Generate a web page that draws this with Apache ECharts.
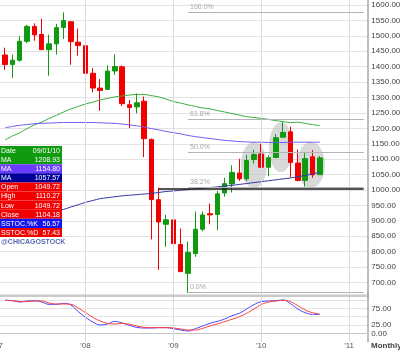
<!DOCTYPE html>
<html>
<head>
<meta charset="utf-8">
<script src="https://cdn.jsdelivr.net/npm/echarts@6/dist/echarts.min.js"></script>
<style>
html, body { margin: 0; padding: 0; background: #fff; }
#root { width: 400px; height: 351px; }
</style>
</head>
<body>
<div id="root"></div>
<script>
// categories: one per month, Jan 2007 .. Mar 2011
var months = [
  '2007-01','2007-02','2007-03','2007-04','2007-05','2007-06','2007-07','2007-08','2007-09','2007-10','2007-11','2007-12',
  '2008-01','2008-02','2008-03','2008-04','2008-05','2008-06','2008-07','2008-08','2008-09','2008-10','2008-11','2008-12',
  '2009-01','2009-02','2009-03','2009-04','2009-05','2009-06','2009-07','2009-08','2009-09','2009-10','2009-11','2009-12',
  '2010-01','2010-02','2010-03','2010-04','2010-05','2010-06','2010-07','2010-08','2010-09','2010-10','2010-11','2010-12',
  '2011-01','2011-02','2011-03'
];
var firstMonth = '2007-02';

// monthly candles: open, close, low, high
var ohlc = [
  [1437.90, 1406.82, 1389.42, 1461.57],
  [1406.80, 1420.86, 1363.98, 1438.89],
  [1420.83, 1482.37, 1416.37, 1498.02],
  [1482.37, 1530.62, 1476.70, 1535.56],
  [1530.62, 1503.35, 1484.18, 1540.56],
  [1504.66, 1455.27, 1454.25, 1555.90],
  [1455.18, 1473.99, 1370.60, 1503.89],
  [1473.96, 1526.75, 1439.29, 1538.74],
  [1527.29, 1549.38, 1489.56, 1576.09],
  [1545.79, 1481.14, 1406.10, 1545.79],
  [1479.63, 1468.36, 1435.65, 1523.57],
  [1467.97, 1378.55, 1270.05, 1471.77],
  [1378.60, 1330.63, 1316.75, 1396.02],
  [1330.45, 1322.70, 1256.98, 1359.68],
  [1326.41, 1385.59, 1324.35, 1404.05],
  [1385.97, 1400.38, 1373.07, 1440.24],
  [1399.62, 1280.00, 1272.00, 1404.05],
  [1276.69, 1267.38, 1200.44, 1292.17],
  [1269.42, 1282.83, 1248.64, 1313.15],
  [1287.83, 1166.36, 1106.42, 1303.04],
  [1164.17, 968.75, 839.80, 1167.03],
  [968.67, 896.24, 741.02, 1007.51],
  [888.61, 903.25, 815.69, 918.85],
  [902.99, 825.88, 804.30, 943.85],
  [823.09, 735.09, 734.52, 875.01],
  [729.57, 797.87, 666.79, 832.98],
  [793.59, 872.81, 783.32, 930.17],
  [872.74, 919.14, 866.10, 930.48],
  [923.26, 919.32, 888.86, 956.23],
  [920.82, 987.48, 869.32, 996.68],
  [990.22, 1020.62, 978.51, 1039.47],
  [1019.52, 1057.08, 991.97, 1080.15],
  [1054.91, 1036.19, 1029.38, 1101.36],
  [1036.18, 1095.63, 1029.38, 1113.69],
  [1098.89, 1115.10, 1085.89, 1130.38],
  [1116.56, 1073.87, 1071.59, 1150.45],
  [1073.89, 1104.49, 1044.50, 1112.42],
  [1105.36, 1169.43, 1105.36, 1180.69],
  [1171.23, 1186.69, 1170.69, 1219.80],
  [1188.58, 1089.41, 1040.78, 1205.13],
  [1087.30, 1030.71, 1028.33, 1131.23],
  [1031.10, 1101.60, 1010.91, 1120.95],
  [1107.53, 1049.33, 1039.70, 1129.24],
  [1049.72, 1104.18, 1049.72, 1110.27]
];

// moving averages
var maGreen = [1162,1175,1185,1199,1211,1220,1232,1242,1253,1263,1271,1279,1285,1292,1297,1302,1305,1308,1310,1310,
  1306,1302,1295,1287,1282,1276,1271,1266,1263,1258,1253,1248,1243,1238,1235,1232,1229,1225,1222,1219,1220,1216,1212,1208.93];
var maViolet = [1202,1206,1210,1212,1215,1216,1217,1218,1219,1219,1219,1219,1219,1218,1217,1216,1214,1211,1208,1204,
  1199,1195,1190,1186,1182,1177,1173,1170,1167,1164,1161,1159,1157,1156,1155,1155,1154,1154,1154,1155,1155,1155,1155,1154.80];
var maNavy = [905,912,918,923,927,930,932,934,937,945,952,960,966,972,975,978,981,983,985,987,
  989,992,995,997,999,1001,1003,1006,1008,1010,1013,1015,1018,1021,1024,1027,1030,1033,1036,1039,1043,1047,1052,1057.57];

// slow stochastics
var stochK = [99,98,94,97,98,94,87,87,90,85,65,48,34,25,28,36,31,24,18,16,
  16,17,17,14,10,7,14,22,30,36,43,53,60,73,86,95,97,98,100,89,73,62,57,56.57];
var stochD = [99,98,96,95,97,97,91,88,88,87,76,62,48,37,30,28,30,27,22,18,
  17,17,17,16,13,10,10,15,22,28,35,42,50,60,73,86,94,97,99,95,83,70,62,57.43];

// fibonacci levels drawn from the Mar 2009 low
var fibFrom = '2009-03';
var fibLevels = [1576, 1229, 1121, 1008, 667];
var fibLabels = ['100.0%', '61.8%', '50.0%', '38.2%', '0.0%'];
var supportFrom = '2008-11';
var supportLevel = 1005;

// head and shoulders shading: month index, price, month radius, price radius
var ovalMonth = [35.0, 38.7, 42.8];
var ovalPrice = [1081, 1139, 1081];
var ovalMonthR = [1.78, 1.64, 1.91];
var ovalPriceR = [75, 81, 75];

var tableLabels = ['Date', 'MA', 'MA', 'MA', 'Open', 'High', 'Low', 'Close', 'SSTOC.%K', 'SSTOC.%D'];
var tableValues = ['09/01/10', '1208.93', '1154.80', '1057.57', '1049.72', '1110.27', '1049.72', '1104.18', '56.57', '57.43'];

var GREEN = '#0f9a0f', RED = '#f00000', VIOLET = '#6a3cff', NAVY = '#000099', BLUE = '#1414f0';
var tableColors = [GREEN, GREEN, VIOLET, NAVY, RED, RED, RED, RED, BLUE, RED];
var FONT = 'Liberation Sans, Arial, sans-serif';

function pad(arr) {
  var s = months.indexOf(firstMonth);
  return months.map(function(m, i) {
    return (i >= s && i - s < arr.length) ? arr[i - s] : '-';
  });
}
var lastMonth = months[months.length - 1];

var yearLines = months.filter(function(m) { return m.slice(5) === '01'; }).map(function(m) {
  return {xAxis: m, lineStyle: {color: '#dadada', width: 1, type: 'solid'}, label: {show: false}};
});

function tag(value, text, bg) {
  return {
    yAxis: value,
    lineStyle: {opacity: 0},
    label: {
      show: true, position: 'end', distance: 3, formatter: text,
      backgroundColor: bg, color: '#fff', fontSize: 8, fontFamily: FONT,
      padding: [1, 6, 0, 2]
    }
  };
}

var fibLines = fibLevels.map(function(v, i) {
  return [
    {coord: [fibFrom, v], lineStyle: {color: '#b4b4b4', width: 1, type: 'solid'},
      label: {show: true, position: 'insideStartTop', formatter: fibLabels[i], color: '#a8a8a8',
        fontSize: 7, fontFamily: FONT, distance: 2}},
    {coord: [lastMonth, v]}
  ];
});
var supportLine = [
  {coord: [supportFrom, supportLevel], lineStyle: {color: '#1a1a1a', width: 1.5, type: 'solid'}, label: {show: false}},
  {coord: [lastMonth, supportLevel]}
];

var maLine = function(name, data, color, tagColor) {
  return {
    name: name, type: 'line', xAxisIndex: 0, yAxisIndex: 0,
    data: pad(data), symbol: 'none', smooth: 0.3, z: 3,
    lineStyle: {color: color, width: 1},
    markLine: {silent: true, symbol: ['none', 'none'], animation: false,
      data: [tag(data[data.length - 1], data[data.length - 1].toFixed(2), tagColor)]}
  };
};

var bandW = 7.32;
var gridLeft = -5.96;
var gridWidth = bandW * months.length;

var option = {
  animation: false,
  textStyle: {fontFamily: FONT},
  grid: [
    {left: gridLeft, top: -10.4, width: gridWidth, height: 308.3, outerBoundsMode: 'none', containLabel: false},
    {left: gridLeft, top: 291.67, width: gridWidth, height: 50, outerBoundsMode: 'none', containLabel: false}
  ],
  xAxis: [
    {type: 'category', gridIndex: 0, data: months, boundaryGap: true,
      axisLine: {show: false}, axisTick: {show: false}, axisLabel: {show: false}, splitLine: {show: false}},
    {type: 'category', gridIndex: 1, data: months, boundaryGap: true, offset: -3.4,
      axisLine: {show: true, lineStyle: {color: '#c4c4c4', width: 1}},
      axisTick: {show: false}, splitLine: {show: false},
      axisLabel: {
        margin: 4, fontSize: 8, color: '#555',
        interval: function(i, v) { return v.slice(5) === '01'; },
        formatter: function(v) { return "'" + v.slice(2, 4); }
      }}
  ],
  yAxis: [
    {type: 'value', gridIndex: 0, position: 'right', min: 650, max: 1650, interval: 50,
      axisLine: {show: true, lineStyle: {color: '#a8a8a8', width: 1.5}},
      axisTick: {show: false},
      axisLabel: {showMinLabel: false, showMaxLabel: false, margin: 4, fontSize: 8, color: '#444',
        padding: [3, 0, 0, 0], formatter: function(v) { return v.toFixed(2); }},
      splitLine: {showMinLine: false, showMaxLine: false, lineStyle: {color: '#e3e3e3', width: 1}}},
    {type: 'value', gridIndex: 1, position: 'right', min: -25, max: 125, interval: 25,
      axisLine: {show: true, lineStyle: {color: '#a8a8a8', width: 1.5}},
      axisTick: {show: false},
      axisLabel: {margin: 4, fontSize: 8, color: '#444', padding: [3, 0, 0, 0],
        formatter: function(v) { return (v === 0 || v === 25 || v === 75) ? v.toFixed(2) : ''; }},
      splitLine: {showMinLine: false, showMaxLine: false, lineStyle: {color: '#e3e3e3', width: 1}}}
  ],
  series: [
    {
      name: 'price', type: 'candlestick', xAxisIndex: 0, yAxisIndex: 0,
      data: pad(ohlc), barWidth: 5,
      itemStyle: {color: GREEN, color0: RED, borderColor: GREEN, borderColor0: RED, borderWidth: 1},
      markLine: {
        silent: true, symbol: ['none', 'none'], animation: false,
        label: {show: false},
        data: yearLines.concat(fibLines).concat([supportLine, tag(ohlc[ohlc.length - 1][1], '1104.18', RED)])
      }
    },
    maLine('MA green', maGreen, '#3aad3a', GREEN),
    maLine('MA violet', maViolet, '#6c5cf2', VIOLET),
    maLine('MA navy', maNavy, '#3434a6', NAVY),
    {
      name: '%K', type: 'line', xAxisIndex: 1, yAxisIndex: 1,
      data: pad(stochK), symbol: 'none', smooth: 0.4,
      lineStyle: {color: '#4646ff', width: 1},
      markLine: {silent: true, symbol: ['none', 'none'], animation: false, label: {show: false}, data: yearLines}
    },
    {
      name: '%D', type: 'line', xAxisIndex: 1, yAxisIndex: 1,
      data: pad(stochD), symbol: 'none', smooth: 0.4,
      lineStyle: {color: '#ff3c3c', width: 1},
      markLine: {silent: true, symbol: ['none', 'none'], animation: false,
        data: [tag(57.43, '57.43', RED)]}
    }
  ]
};

var chart = echarts.init(document.getElementById('root'));
chart.setOption(option);

// graphic overlay: shading ovals, info table, separator, captions
function toPx(idx, price) {
  var i0 = Math.floor(idx);
  var a = chart.convertToPixel({gridIndex: 0}, [i0, price]);
  var b = chart.convertToPixel({gridIndex: 0}, [i0 + 1, price]);
  return [a[0] + (idx - i0) * (b[0] - a[0]), a[1]];
}
var elements = [];
ovalMonth.forEach(function(m, i) {
  var c = toPx(m, ovalPrice[i]);
  var e = toPx(m + ovalMonthR[i], ovalPrice[i] + ovalPriceR[i]);
  elements.push({type: 'ellipse', z: 1,
    shape: {cx: c[0], cy: c[1], rx: Math.abs(e[0] - c[0]), ry: Math.abs(c[1] - e[1])},
    style: {fill: 'rgba(185,185,185,0.55)'}});
});
elements.push({type: 'rect', z: 50, shape: {x: 0, y: 294.5, width: 367.4, height: 2.5}, style: {fill: '#cacaca'}});

var rowH = 9.1, tableTop = 146;
tableLabels.forEach(function(lab, i) {
  var y = tableTop + i * rowH;
  elements.push({type: 'rect', z: 100, shape: {x: 0, y: y, width: 62, height: rowH}, style: {fill: tableColors[i]}});
  elements.push({type: 'text', z: 101, x: 1, y: y + rowH / 2 + 0.5,
    style: {text: lab, fill: '#fff', font: '7px ' + FONT, align: 'left', verticalAlign: 'middle'}});
  elements.push({type: 'text', z: 101, x: 60, y: y + rowH / 2 + 0.5,
    style: {text: tableValues[i], fill: '#fff', font: '7px ' + FONT, align: 'right', verticalAlign: 'middle'}});
});
elements.push({type: 'text', z: 101, x: 1, y: 242,
  style: {text: '@CHICAGOSTOCK', fill: '#5a6cae', stroke: '#ffffff', lineWidth: 2, strokeFirst: true,
    font: 'bold 7px ' + FONT, align: 'left', verticalAlign: 'middle'}});
elements.push({type: 'text', z: 101, x: 371, y: 346,
  style: {text: 'Monthly', fill: '#444', font: 'bold 8px ' + FONT, align: 'left', verticalAlign: 'middle'}});

chart.setOption({graphic: elements});
</script>
</body>
</html>
